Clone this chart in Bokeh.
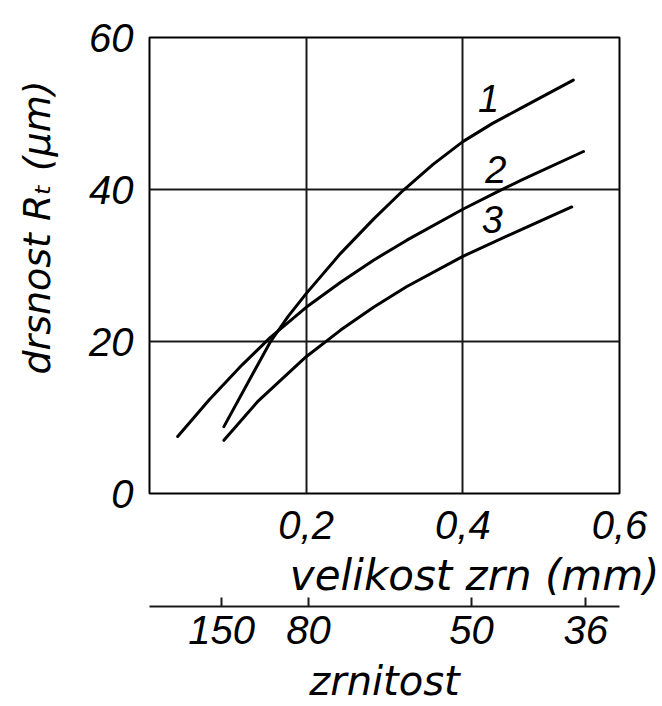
import math
from bokeh.plotting import figure
from bokeh.layouts import row
from bokeh.models import FixedTicker, LinearAxis, Label, Title
from bokeh.embed import file_html
from bokeh.resources import INLINE

# ---- data ----
grain_ticks = [0.2, 0.4, 0.6]
grain_labels = ["0,2", "0,4", "0,6"]
rough_ticks = [0, 20, 40, 60]
rough_labels = ["0", "20", "40", "60"]

grit_numbers = ["150", "80", "50", "36"]
grit_mm = [0.092, 0.203, 0.411, 0.557]

c1_x = [0.095, 0.131, 0.154, 0.177, 0.200, 0.244, 0.286, 0.324, 0.362, 0.400, 0.438, 0.476, 0.541]
c1_y = [8.8, 15.6, 19.9, 23.3, 26.3, 31.6, 36.1, 39.9, 43.3, 46.3, 48.7, 50.8, 54.4]

c2_x = [0.036, 0.076, 0.118, 0.154, 0.200, 0.244, 0.286, 0.328, 0.400, 0.442, 0.476, 0.554]
c2_y = [7.5, 12.3, 16.9, 20.5, 24.5, 27.8, 30.7, 33.3, 37.4, 39.6, 41.3, 45.0]

c3_x = [0.095, 0.139, 0.200, 0.244, 0.286, 0.328, 0.400, 0.476, 0.539]
c3_y = [7.0, 12.2, 18.0, 21.5, 24.5, 27.2, 31.2, 34.8, 37.7]

curve_names = ["1", "2", "3"]
curve_label_x = [0.433, 0.442, 0.4375]
curve_label_y = [52.0, 42.6, 36.0]

NUM_FONT = "Liberation Sans"
WORD_FONT = "DejaVu Sans"

W_LEFT = 80   # narrow strip holding the rotated y title
TOP, BOTTOM = 37, 211

p = figure(width=662 - W_LEFT, height=706, x_range=(0, 0.6), y_range=(0, 60),
           output_backend="svg", toolbar_location=None,
           min_border_left=149 - W_LEFT, min_border_right=43, min_border_top=TOP,
           min_border_bottom=BOTTOM)
p.background_fill_color = "white"
p.border_fill_color = "white"
p.outline_line_color = "black"
p.outline_line_width = 2

# grid
p.xgrid.ticker = FixedTicker(ticks=[0.2, 0.4])
p.ygrid.ticker = FixedTicker(ticks=[20, 40])
for g in (p.xgrid, p.ygrid):
    g.grid_line_color = "#1a1a1a"
    g.grid_line_width = 2
    g.grid_line_alpha = 1

# primary x axis
xa = p.xaxis[0]
xa.ticker = FixedTicker(ticks=grain_ticks)
xa.major_label_overrides = {t: l for t, l in zip(grain_ticks, grain_labels)}
xa.axis_line_color = None
xa.major_tick_line_color = None
xa.minor_tick_line_color = None
xa.major_tick_in = 0
xa.major_tick_out = 0
xa.major_label_standoff = 17
xa.major_label_text_font = NUM_FONT
xa.major_label_text_font_style = "italic"
xa.major_label_text_font_size = "40px"
xa.major_label_text_color = "black"

# y axis
ya = p.yaxis[0]
ya.ticker = FixedTicker(ticks=rough_ticks)
ya.major_label_overrides = {t: l for t, l in zip(rough_ticks, rough_labels)}
ya.axis_line_color = None
ya.major_tick_line_color = None
ya.minor_tick_line_color = None
ya.major_tick_in = 0
ya.major_tick_out = 0
ya.major_label_standoff = 16
ya.major_label_text_font = NUM_FONT
ya.major_label_text_font_style = "italic"
ya.major_label_text_font_size = "40px"
ya.major_label_text_color = "black"

# x axis title
t = Title(text="velikost zrn (mm)", align="right", offset=-40,
          text_font=WORD_FONT, text_font_style="italic", text_font_size="42px",
          text_color="black", standoff=14)
p.add_layout(t, "below")

# secondary (grit) axis
ga = LinearAxis(ticker=FixedTicker(ticks=grit_mm),
                major_label_overrides={m: n for m, n in zip(grit_mm, grit_numbers)},
                axis_label="zrnitost")
ga.axis_line_width = 2
ga.axis_line_color = "#1a1a1a"
ga.major_tick_in = 9
ga.major_tick_out = 0
ga.major_tick_line_width = 2
ga.major_tick_line_color = "#1a1a1a"
ga.minor_tick_line_color = None
ga.major_label_standoff = 9
ga.major_label_text_font = NUM_FONT
ga.major_label_text_font_style = "italic"
ga.major_label_text_font_size = "40px"
ga.major_label_text_color = "black"
ga.axis_label_standoff = 11
ga.axis_label_text_font = WORD_FONT
ga.axis_label_text_font_style = "italic"
ga.axis_label_text_font_size = "40px"
ga.axis_label_text_color = "black"
p.add_layout(ga, "below")

# curves
for xs, ys in ((c1_x, c1_y), (c2_x, c2_y), (c3_x, c3_y)):
    p.line(xs, ys, line_color="black", line_width=3, line_join="round", line_cap="round")

# curve numbers
for name, lx, ly in zip(curve_names, curve_label_x, curve_label_y):
    p.add_layout(Label(x=lx, y=ly, text=name, text_align="center", text_baseline="middle",
                       text_font=NUM_FONT, text_font_style="italic", text_font_size="38px",
                       text_color="black"))

# left strip with the rotated y-axis title; shares the y range with the chart
pl = figure(width=W_LEFT, height=706, x_range=(0, W_LEFT), y_range=p.y_range,
            x_axis_type=None, y_axis_type=None, output_backend="svg",
            toolbar_location=None, min_border_left=0, min_border_right=0,
            min_border_top=TOP, min_border_bottom=BOTTOM)
pl.outline_line_color = None
pl.background_fill_color = "white"
pl.border_fill_color = "white"
pl.add_layout(Label(x=36, y=35.0, text="drsnost R\u209c (\u00b5m)", angle=math.pi / 2,
                    text_align="center", text_baseline="middle",
                    text_font=WORD_FONT, text_font_style="italic", text_font_size="38px",
                    text_color="black"))

layout = row(pl, p)
open("out.html", "w").write(file_html(layout, INLINE))
